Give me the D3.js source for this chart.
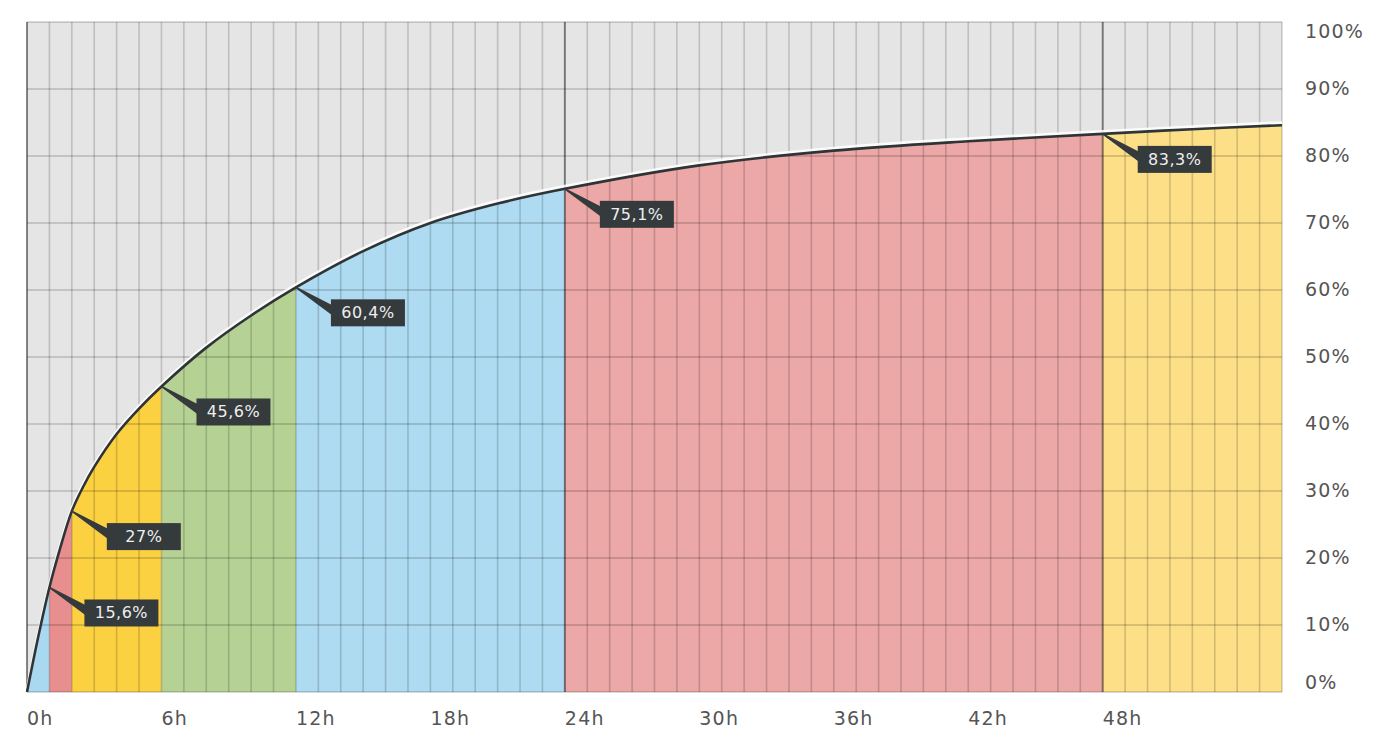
<!DOCTYPE html>
<html><head><meta charset="utf-8">
<script src="https://cdn.jsdelivr.net/npm/d3@7"></script>
<style>
html,body{margin:0;padding:0;background:#fff;}
svg{display:block;}
text{font-family:"DejaVu Sans","Lato",sans-serif;}
</style></head>
<body><svg id="c" width="1389" height="747"></svg>
<script>
// ---- data ----
const curveHours = [0, 0.5, 1, 1.5, 2, 2.5, 3, 4, 5, 6, 8, 10, 12, 15, 18, 21, 24, 30, 36, 42, 48, 52, 56];
const curveValues = [0, 8.2, 15.6, 21.7, 27, 30.6, 33.6, 38.5, 42.3, 45.6, 51.4, 56.2, 60.4, 65.8, 70.0, 72.9, 75.1, 78.6, 80.8, 82.2, 83.3, 84.0, 84.6];
const segmentStarts = [0, 1, 2, 6, 12, 24, 48];
const segmentEnds = [1, 2, 6, 12, 24, 48, 56];
const labelHours = [1, 2, 6, 12, 24, 48];
const labelValues = [15.6, 27, 45.6, 60.4, 75.1, 83.3];
const labelTexts = ["15,6%", "27%", "45,6%", "60,4%", "75,1%", "83,3%"];
const xTickHours = [0, 6, 12, 18, 24, 30, 36, 42, 48];
const xTickLabels = ["0h", "6h", "12h", "18h", "24h", "30h", "36h", "42h", "48h"];
const yTickValues = [0, 10, 20, 30, 40, 50, 60, 70, 80, 90, 100];
const yTickLabels = ["0%", "10%", "20%", "30%", "40%", "50%", "60%", "70%", "80%", "90%", "100%"];
const majorHours = [0, 24, 48];

// ---- styles ----
const segmentColors = ["#a9d9f0", "#e88e8e", "#fcd141", "#b5d294", "#aedbf2", "#eca7a7", "#fddf87"];

const svg = d3.select("#c");
const L = 27, R = 1282, T = 22, B = 692;
const x = d3.scaleLinear().domain([0, 56]).range([L, R]);
const y = d3.scaleLinear().domain([0, 100]).range([B, T]);
const pts = curveHours.map((h, i) => [h, curveValues[i]]);
const curveType = d3.curveCatmullRom.alpha(0.5);

// background
svg.append("rect").attr("x", L).attr("y", T).attr("width", R - L).attr("height", B - T).attr("fill", "#e5e5e5");

// segment areas
const defs = svg.append("defs");
segmentStarts.forEach((s, i) => {
  defs.append("clipPath").attr("id", "cp" + i).append("rect")
    .attr("x", x(s)).attr("y", T).attr("width", x(segmentEnds[i]) - x(s)).attr("height", B - T);
});
const area = d3.area().x(d => x(d[0])).y0(y(0)).y1(d => y(d[1])).curve(curveType);
segmentStarts.forEach((s, i) => {
  svg.append("path").datum(pts).attr("d", area).attr("fill", segmentColors[i]).attr("clip-path", "url(#cp" + i + ")");
});

// grid
const grid = svg.append("g");
d3.range(0, 57, 1).forEach(h => {
  grid.append("line").attr("x1", x(h)).attr("x2", x(h)).attr("y1", T).attr("y2", B)
    .attr("stroke", "rgba(0,0,0,0.17)").attr("stroke-width", 1.6);
});
yTickValues.forEach(v => {
  grid.append("line").attr("x1", L).attr("x2", R).attr("y1", y(v)).attr("y2", y(v))
    .attr("stroke", "rgba(0,0,0,0.2)").attr("stroke-width", 1.6);
});
majorHours.forEach(h => {
  grid.append("line").attr("x1", x(h)).attr("x2", x(h)).attr("y1", T).attr("y2", B)
    .attr("stroke", "rgba(0,0,0,0.38)").attr("stroke-width", 2);
});

// curve
const line = d3.line().x(d => x(d[0])).y(d => y(d[1])).curve(curveType);
svg.append("path").datum(pts).attr("d", line).attr("fill", "none")
  .attr("stroke", "rgba(255,255,255,0.85)").attr("stroke-width", 3).attr("transform", "translate(0,-2.5)");
svg.append("path").datum(pts).attr("d", line).attr("fill", "none")
  .attr("stroke", "#2f3436").attr("stroke-width", 2.6);

// labels
labelHours.forEach((h, i) => {
  const px = x(h), py = y(labelValues[i]);
  const g = svg.append("g");
  const t = labelTexts[i];
  const w = 74;
  const bx = px + 35, by = py + 12, bh = 27;
  g.append("path").attr("d", `M${px},${py} L${bx + 4},${by + 8} L${bx + 4},${by + 17} Z`)
    .attr("fill", "#353a3c").attr("stroke", "#353a3c").attr("stroke-width", 1.5).attr("stroke-linejoin", "round");
  g.append("rect").attr("x", bx).attr("y", by).attr("width", w).attr("height", bh).attr("fill", "#353a3c");
  g.append("text").attr("x", bx + w / 2).attr("y", by + bh / 2 + 1).attr("text-anchor", "middle")
    .attr("dominant-baseline", "middle").attr("fill", "#eeeeee").attr("font-size", 16)
    .attr("letter-spacing", 0.5).text(t);
});

// x axis labels
xTickHours.forEach((h, i) => {
  svg.append("text").attr("x", x(h)).attr("y", 719).attr("dominant-baseline", "middle")
    .attr("fill", "#555").attr("font-size", 19).attr("letter-spacing", 1.2).text(xTickLabels[i]);
});
// y axis labels
yTickValues.forEach((v, i) => {
  let yy = y(v);
  if (v === 100) yy = T + 10;
  if (v === 0) yy = B - 9;
  svg.append("text").attr("x", 1305).attr("y", yy).attr("dominant-baseline", "middle")
    .attr("fill", "#555").attr("font-size", 19).attr("letter-spacing", 1.2).text(yTickLabels[i]);
});
</script>
</body></html>
